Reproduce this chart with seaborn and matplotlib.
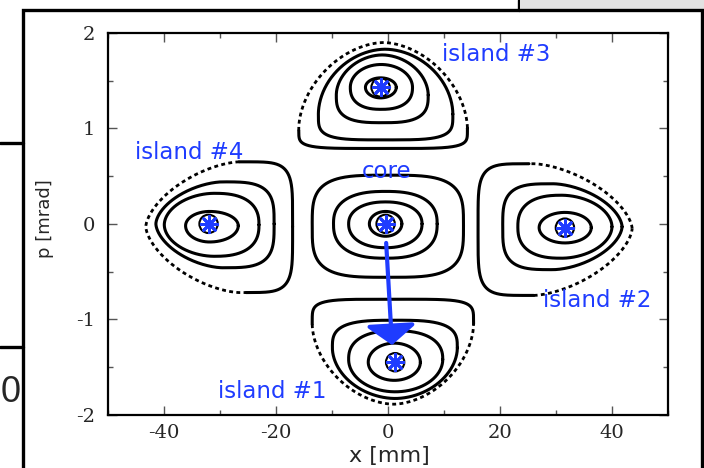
import numpy as np
import pandas as pd
import matplotlib
matplotlib.use("Agg")
import matplotlib.pyplot as plt
import seaborn as sns
from matplotlib.patches import Rectangle
from matplotlib.lines import Line2D

# ---------------- data ----------------
# fixed points (stars) of core and islands: x [mm], p [mrad]
fp_names = ["core", "island #1", "island #2", "island #3", "island #4"]
fp_x = [-0.4, 1.3, 31.6, -1.3, -32.0]
fp_p = [0.0, -1.45, -0.04, 1.43, 0.0]

# invariant curves:
# (x_left, x_right, p_bottom, p_top, x_mid, p_mid, n_q1, n_q2, n_q3, n_q4)
core_rings = [
    (-3.3, 2.5, -0.13, 0.13, -0.4, 0.0, 2.0, 2.0, 2.0, 2.0),
    (-7.0, 6.1, -0.25, 0.23, -0.4, 0.0, 2.2, 2.2, 2.2, 2.2),
    (-9.7, 8.8, -0.36, 0.34, -0.4, 0.0, 2.5, 2.5, 2.5, 2.5),
    (-13.5, 13.5, -0.56, 0.51, 0.0, -0.02, 3.6, 3.6, 3.6, 3.6),
]
island1_rings = [
    (-3.5, 5.8, -1.64, -1.25, 1.15, -1.45, 2.0, 2.0, 2.0, 2.0),
    (-7.0, 9.8, -1.76, -1.12, 1.3, -1.42, 2.4, 2.4, 2.0, 2.0),
    (-9.9, 12.4, -1.83, -1.01, 1.3, -1.30, 3.2, 3.2, 1.9, 1.9),
]
island1_outer = (-13.5, 15.3, -1.89, -0.79, 1.0, -1.05, 5.0, 5.0, 1.8, 1.8)

island2_rings = [
    (27.0, 36.3, -0.20, 0.12, 31.6, -0.04, 2.0, 2.0, 2.0, 2.0),
    (23.2, 40.0, -0.36, 0.30, 31.0, -0.03, 1.9, 2.5, 2.5, 1.9),
    (20.5, 41.8, -0.48, 0.42, 29.5, -0.03, 1.7, 3.5, 3.5, 1.7),
]
island2_outer = (16.1, 43.6, -0.75, 0.63, 26.0, -0.05, 1.6, 5.0, 5.0, 1.6)

island3_rings = [
    (-4.0, 1.5, 1.32, 1.53, -1.3, 1.43, 2.0, 2.0, 2.0, 2.0),
    (-6.7, 4.4, 1.20, 1.67, -1.2, 1.43, 2.0, 2.0, 2.4, 2.4),
    (-9.2, 7.2, 1.06, 1.77, -1.0, 1.35, 1.9, 1.9, 3.0, 3.0),
    (-12.4, 11.6, 0.88, 1.83, -0.5, 1.15, 1.9, 1.9, 4.0, 4.0),
]
island3_outer = (-15.9, 14.2, 0.79, 1.90, -0.8, 1.00, 1.8, 1.8, 5.0, 5.0)

island4_rings = [
    (-36.1, -26.7, -0.19, 0.13, -31.8, -0.02, 2.0, 2.0, 2.0, 2.0),
    (-39.9, -23.0, -0.34, 0.32, -31.0, -0.01, 2.5, 1.9, 1.9, 2.5),
    (-41.4, -20.3, -0.46, 0.44, -29.5, 0.0, 3.5, 1.7, 1.7, 3.5),
]
island4_outer = (-43.2, -17.0, -0.72, 0.65, -26.5, -0.03, 5.0, 1.6, 1.6, 5.0)

# flat (core-facing, solid) side of each outer separatrix ring
outer_rings = [island1_outer, island2_outer, island3_outer, island4_outer]
outer_flat = ["T", "L", "B", "R"]

# arrow from core to island #1
arrow_start = (-0.3, -0.20)
arrow_end = (0.75, -1.27)

# labels
label_text = ["island #3", "island #4", "core", "island #2", "island #1"]
label_x = [19.3, -35.4, -0.3, 37.3, -20.6]
label_p = [1.77, 0.75, 0.55, -0.80, -1.76]

x_ticks = [-40, -20, 0, 20, 40]
p_ticks = [-2, -1, 0, 1, 2]

BLUE = "#1f3cff"


def ring_curve(r, npts=400):
    xl, xr, pb, pt, xm, pm, n1, n2, n3, n4 = r
    t = np.linspace(0, 2 * np.pi, npts)
    c, s = np.cos(t), np.sin(t)
    n = np.where(c >= 0, np.where(s >= 0, n1, n4), np.where(s >= 0, n2, n3))
    ax_ = np.where(c >= 0, xr - xm, xm - xl)
    bx_ = np.where(s >= 0, pt - pm, pm - pb)
    x = xm + ax_ * np.sign(c) * np.abs(c) ** (2.0 / n)
    p = pm + bx_ * np.sign(s) * np.abs(s) ** (2.0 / n)
    return x, p


solid_rows, dot_rows = [], []
seg = 0
for rings in [core_rings, island1_rings, island2_rings, island3_rings, island4_rings]:
    for r in rings:
        x, p = ring_curve(r)
        solid_rows.append(pd.DataFrame({"x": x, "p": p, "seg": seg}))
        seg += 1

for r, flat in zip(outer_rings, outer_flat):
    x, p = ring_curve(r, 800)
    xm, pm = r[4], r[5]
    if flat == "T":
        solid = p >= pm
    elif flat == "B":
        solid = p <= pm
    elif flat == "L":
        solid = x <= xm
    else:
        solid = x >= xm
    idx = np.arange(len(x))
    runs = np.split(idx, np.where(np.diff(solid.astype(int)) != 0)[0] + 1)
    for run in runs:
        run = np.concatenate([run, [min(run[-1] + 1, len(x) - 1)]])
        df = pd.DataFrame({"x": x[run], "p": p[run], "seg": seg})
        (solid_rows if solid[run[0]] else dot_rows).append(df)
        seg += 1

df_solid = pd.concat(solid_rows, ignore_index=True)
df_dot = pd.concat(dot_rows, ignore_index=True)

# ---------------- figure ----------------
sns.set_style("ticks")
plt.rcParams["font.family"] = ["DejaVu Sans"]

fig = plt.figure(figsize=(7.04, 4.68), dpi=100)
ax = fig.add_axes([107.7 / 704, 1 - 414.7 / 468, (668 - 107.7) / 704, (414.7 - 33) / 468])

sns.lineplot(data=df_solid, x="x", y="p", units="seg", estimator=None, sort=False,
             color="black", lw=2.2, ax=ax, legend=False)
sns.lineplot(data=df_dot, x="x", y="p", units="seg", estimator=None, sort=False,
             color="black", lw=2.0, linestyle=(0, (1.4, 1.2)), ax=ax, legend=False)

# tight black ring and blue asterisk at each fixed point
sns.scatterplot(x=fp_x, y=fp_p, marker="o", s=175, facecolor="none",
                edgecolor="black", linewidth=1.5, ax=ax, zorder=4, legend=False)
sns.scatterplot(x=fp_x, y=fp_p, marker=(8, 2, 0), s=140, color=BLUE,
                linewidth=2.0, ax=ax, zorder=5, legend=False)

ax.annotate("", xy=arrow_end, xytext=arrow_start,
            arrowprops=dict(arrowstyle="-|>,head_width=0.7,head_length=0.55",
                            color=BLUE, lw=3.0, mutation_scale=22,
                            shrinkA=0, shrinkB=0), zorder=6)

for t, x, p in zip(label_text, label_x, label_p):
    ax.text(x, p, t, color=BLUE, fontsize=16.5, ha="center", va="center",
            family="DejaVu Sans", zorder=7)

ax.set_xlim(-50, 50)
ax.set_ylim(-2, 2)
ax.set_xticks(x_ticks)
ax.set_yticks(p_ticks)
ax.set_xticks(np.arange(-50, 51, 10), minor=True)
ax.set_yticks(np.arange(-2, 2.01, 0.5), minor=True)
ax.set_xticklabels([str(v) for v in x_ticks], family="DejaVu Serif", fontsize=14)
ax.set_yticklabels([str(v) for v in p_ticks], family="DejaVu Serif", fontsize=14)
ax.tick_params(which="both", direction="in", top=True, right=True, color="#555555", width=1)
ax.tick_params(which="major", length=6.5)
ax.tick_params(which="minor", length=3.6)
ax.tick_params(axis="x", pad=7)
ax.tick_params(axis="y", pad=9)
for sp in ax.spines.values():
    sp.set_linewidth(1.6)
    sp.set_color("black")

ax.set_xlabel("x [mm]", fontsize=16, family="DejaVu Sans")
ax.set_ylabel("p [mrad]", fontsize=13, family="DejaVu Sans")
ax.xaxis.set_label_coords(0.502, -0.083)
ax.yaxis.set_label_coords(-0.096, 0.513)

# surrounding slide frame and fragments
fig.patches.append(Rectangle((23 / 704, -0.05), (702 - 23) / 704, 1 - 10 / 468 + 0.05,
                             transform=fig.transFigure, fill=False, edgecolor="black",
                             lw=2.4, zorder=10))
fig.patches.append(Rectangle((520 / 704, 1 - 10 / 468), (704 - 520) / 704, 10 / 468,
                             transform=fig.transFigure, facecolor="#e2e2e2",
                             edgecolor="none", zorder=9))
fig.lines.append(Line2D([519 / 704, 519 / 704], [1, 1 - 10 / 468], transform=fig.transFigure,
                        color="black", lw=2.4))
for yy in [143, 347]:
    fig.lines.append(Line2D([0, 23 / 704], [1 - yy / 468, 1 - yy / 468],
                            transform=fig.transFigure, color="black", lw=2.4))
fig.text(10.5 / 704, 1 - 393 / 468, "0", fontsize=26, ha="center", va="center",
         family="Liberation Sans")

fig.savefig("out.png", dpi=100)
